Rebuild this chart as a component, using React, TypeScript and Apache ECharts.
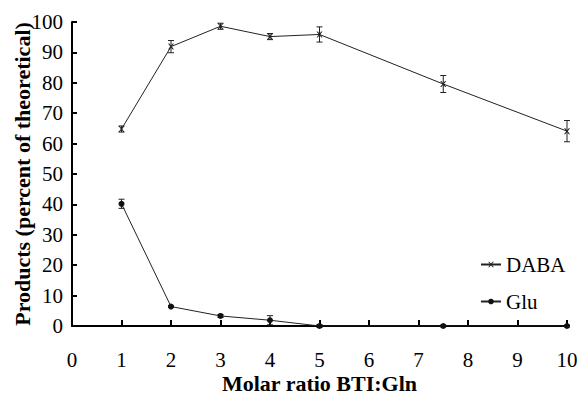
import React, { useEffect, useRef } from "react";
import * as echarts from "echarts";

const xValues = [1, 2, 3, 4, 5, 7.5, 10];
const dabaValues = [64.8, 91.9, 98.6, 95.2, 95.9, 79.6, 64.1];
const dabaErrors = [1.0, 2.0, 1.0, 1.0, 2.5, 2.8, 3.5];
const gluValues = [40.2, 6.4, 3.3, 1.9, 0, 0, 0];
const gluErrors = [1.5, 0.3, 0.5, 1.5, 0.5, 0.3, 0.3];

const FONT = "'Liberation Serif', 'Times New Roman', serif";

export default function App() {
  const ref = useRef<HTMLDivElement>(null);
  useEffect(() => {
    if (!ref.current) return;
    const chart = echarts.init(ref.current, undefined, { renderer: "svg" });
    const dabaData = xValues.map((x, i) => [x, dabaValues[i]]);
    const gluData = xValues.map((x, i) => [x, gluValues[i]]);
    const errData = [
      ...xValues.map((x, i) => [x, dabaValues[i] - dabaErrors[i], dabaValues[i] + dabaErrors[i]]),
      ...xValues.map((x, i) => [x, gluValues[i] - gluErrors[i], gluValues[i] + gluErrors[i]]),
    ];
    const xSym = "path://M0,0 L2,0 L5,3.6 L8,0 L10,0 L6.2,5 L10,10 L8,10 L5,6.4 L2,10 L0,10 L3.8,5 Z";
    chart.setOption({
      animation: false,
      backgroundColor: "#fff",
      textStyle: { fontFamily: FONT },
      grid: { left: 72, right: 14, top: 22, bottom: 69, containLabel: false, outerBoundsMode: "none" },
      legend: {
        orient: "vertical",
        left: 475,
        top: 249,
        itemWidth: 20,
        itemHeight: 7,
        itemGap: 16,
        data: ["DABA", "Glu"],
        textStyle: { fontFamily: FONT, fontSize: 21, color: "#000" },
      },
      xAxis: {
        type: "value",
        min: 0,
        max: 10,
        interval: 1,
        name: "Molar ratio BTI:Gln",
        nameLocation: "middle",
        nameGap: 46,
        nameMoveOverlap: false,
        nameTextStyle: { fontFamily: FONT, fontSize: 22, fontWeight: "bold", color: "#000" },
        axisLine: { onZero: false, lineStyle: { color: "#000", width: 2 } },
        axisTick: { inside: true, length: 6, lineStyle: { color: "#000", width: 2 } },
        axisLabel: { fontFamily: FONT, fontSize: 21, color: "#000", margin: 23 },
        splitLine: { show: false },
      },
      yAxis: {
        type: "value",
        min: 0,
        max: 100,
        interval: 10,
        name: "Products (percent of theoretical)",
        nameLocation: "middle",
        nameGap: 39,
        nameMoveOverlap: false,
        nameTextStyle: { fontFamily: FONT, fontSize: 22, fontWeight: "bold", color: "#000" },
        axisLine: { show: true, lineStyle: { color: "#000", width: 2 } },
        axisTick: { show: true, inside: true, length: 5, lineStyle: { color: "#000", width: 2 } },
        axisLabel: { fontFamily: FONT, fontSize: 21, color: "#000", margin: 9 },
        splitLine: { show: false },
      },
      series: [
        {
          name: "DABA",
          type: "line",
          data: dabaData,
          symbol: xSym,
          symbolSize: 6,
          lineStyle: { color: "#222", width: 1 },
          itemStyle: { color: "#222" },
          z: 3,
        },
        {
          name: "Glu",
          type: "line",
          data: gluData,
          symbol: "circle",
          symbolSize: 6,
          lineStyle: { color: "#222", width: 1 },
          itemStyle: { color: "#111" },
          z: 3,
        },
        {
          name: "err",
          type: "custom",
          data: errData,
          z: 2,
          renderItem: (params: any, api: any) => {
            const x = api.value(0);
            const lo = api.coord([x, api.value(1)]);
            const hi = api.coord([x, api.value(2)]);
            const w = 3;
            const style = { stroke: "#222", lineWidth: 1 };
            return {
              type: "group",
              children: [
                { type: "line", shape: { x1: lo[0], y1: lo[1], x2: hi[0], y2: hi[1] }, style },
                { type: "line", shape: { x1: lo[0] - w, y1: lo[1], x2: lo[0] + w, y2: lo[1] }, style },
                { type: "line", shape: { x1: hi[0] - w, y1: hi[1], x2: hi[0] + w, y2: hi[1] }, style },
              ],
            };
          },
        },
      ],
    });
    return () => chart.dispose();
  }, []);
  return <div ref={ref} style={{ width: 581, height: 395, position: "absolute", left: 0, top: 0 }} />;
}
